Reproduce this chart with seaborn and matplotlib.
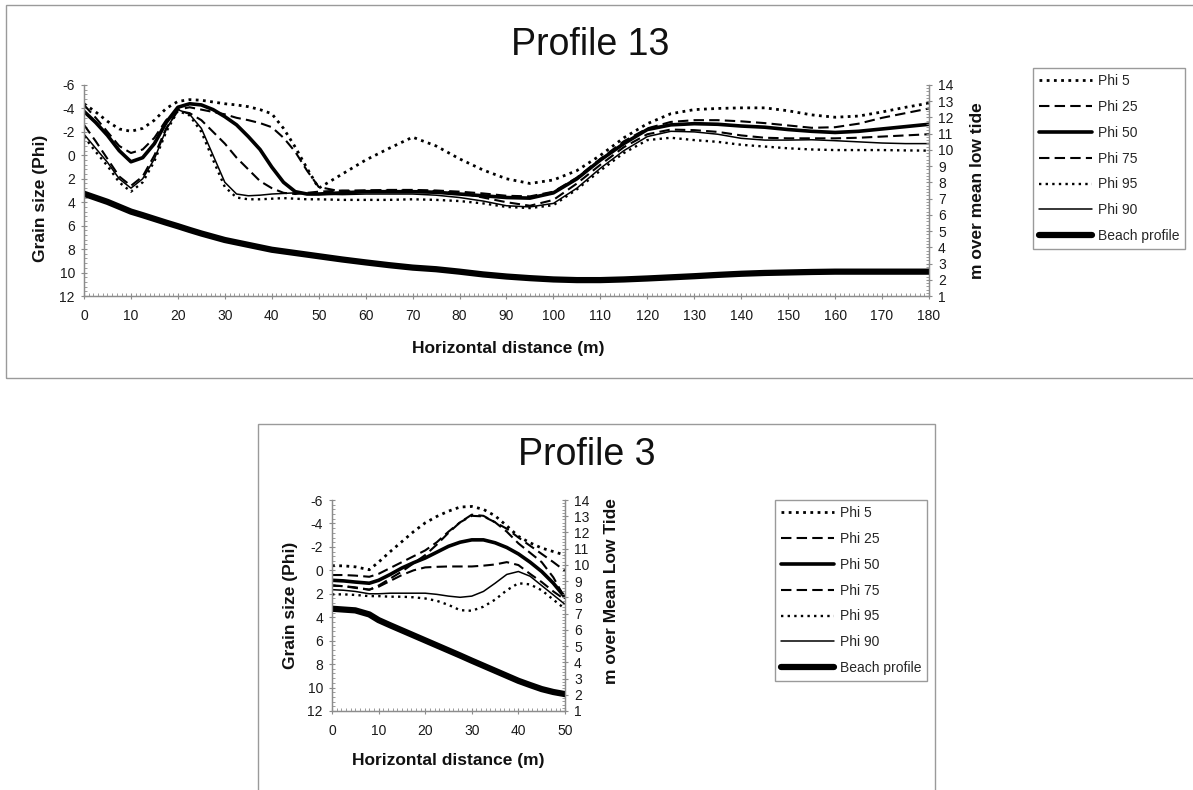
import matplotlib
matplotlib.use("Agg")
import matplotlib.pyplot as plt
import seaborn as sns
from matplotlib.patches import Rectangle
from matplotlib.ticker import MultipleLocator

# ---- Profile 13 (grain size in phi, beach profile in m over mean low tide)
dist_13 = [0, 2.5, 5, 7.5, 10, 12.5, 15, 17.5, 20, 22.5, 25, 27.5, 30, 32.5, 35, 37.5,
           40, 42.5, 45, 47.5, 50, 55, 60, 65, 70, 75, 80, 85, 90, 95, 100, 105, 110,
           115, 120, 125, 130, 135, 140, 145, 150, 155, 160, 165, 170, 175, 180]
phi5_13 = [-4.4, -3.7, -2.9, -2.25, -2.05, -2.3, -3.0, -4.0, -4.6, -4.75, -4.7, -4.55, -4.4,
           -4.3, -4.15, -3.9, -3.55, -2.3, -0.7, 1.1, 2.8, 1.6, 0.4, -0.6, -1.55, -0.8, 0.3,
           1.25, 2.0, 2.4, 2.1, 1.3, 0.0, -1.5, -2.7, -3.55, -3.9, -4.0, -4.05, -4.05, -3.8,
           -3.45, -3.25, -3.35, -3.7, -4.1, -4.45]
phi25_13 = [-4.3, -3.2, -2.0, -0.8, -0.2, -0.5, -1.5, -3.0, -3.9, -4.1, -3.9, -3.7, -3.5,
            -3.2, -3.0, -2.75, -2.4, -1.5, -0.3, 1.3, 2.7, 3.1, 3.0, 2.95, 2.95, 3.0, 3.1,
            3.25, 3.45, 3.5, 3.1, 1.9, 0.3, -1.2, -2.3, -2.85, -3.0, -3.0, -2.9, -2.75, -2.55,
            -2.35, -2.4, -2.7, -3.2, -3.6, -4.0]
phi50_13 = [-3.75, -2.8, -1.7, -0.4, 0.55, 0.2, -1.0, -2.8, -4.1, -4.4, -4.3, -3.9, -3.3,
            -2.6, -1.6, -0.5, 1.0, 2.3, 3.1, 3.3, 3.3, 3.2, 3.1, 3.1, 3.1, 3.15, 3.3, 3.45,
            3.6, 3.65, 3.2, 2.0, 0.4, -1.0, -2.2, -2.6, -2.7, -2.65, -2.5, -2.4, -2.2, -2.05,
            -1.95, -2.05, -2.25, -2.45, -2.65]
phi75_13 = [-2.6, -1.2, 0.3, 1.8, 2.6, 1.8, 0.0, -2.3, -3.8, -3.6, -3.0, -2.0, -1.0, 0.2,
            1.2, 2.2, 2.8, 3.2, 3.3, 3.2, 3.1, 3.0, 3.0, 3.0, 3.0, 3.05, 3.2, 3.6, 4.0, 4.3,
            3.8, 2.4, 0.8, -0.7, -1.8, -2.2, -2.15, -2.0, -1.7, -1.5, -1.45, -1.45, -1.45,
            -1.5, -1.6, -1.7, -1.8]
phi95_13 = [-1.6, -0.3, 0.9, 2.3, 3.1, 2.3, 0.5, -2.0, -3.8, -3.4, -2.0, 0.4, 2.7, 3.6,
            3.75, 3.75, 3.7, 3.65, 3.7, 3.75, 3.75, 3.8, 3.8, 3.8, 3.75, 3.8, 3.9, 4.1, 4.4,
            4.5, 4.25, 2.9, 1.3, -0.2, -1.3, -1.5, -1.3, -1.15, -0.9, -0.75, -0.6, -0.5,
            -0.45, -0.45, -0.45, -0.42, -0.4]
phi90_13 = [-1.8, -0.6, 0.6, 2.0, 2.8, 2.0, 0.3, -2.2, -3.9, -3.5, -2.3, 0.0, 2.3, 3.3,
            3.45, 3.4, 3.3, 3.25, 3.2, 3.25, 3.3, 3.35, 3.3, 3.3, 3.3, 3.4, 3.6, 3.9, 4.3,
            4.4, 4.1, 2.8, 1.1, -0.4, -1.6, -2.05, -2.0, -1.8, -1.45, -1.3, -1.3, -1.33,
            -1.25, -1.15, -1.05, -1.0, -1.0]
beach_13 = [7.3, 7.05, 6.8, 6.5, 6.2, 5.98, 5.75, 5.52, 5.3, 5.07, 4.85, 4.65, 4.45, 4.3,
            4.15, 4.0, 3.85, 3.75, 3.65, 3.55, 3.45, 3.25, 3.07, 2.9, 2.75, 2.65, 2.5, 2.33,
            2.2, 2.1, 2.02, 1.98, 1.98, 2.02, 2.08, 2.15, 2.22, 2.3, 2.37, 2.42, 2.45, 2.48,
            2.5, 2.5, 2.5, 2.5, 2.5]

# ---- Profile 3
dist_3 = [0, 2.5, 5, 8, 10, 12.5, 15, 17.5, 20, 22.5, 25, 27.5, 30, 32.5, 35, 37.5, 40,
          42.5, 45, 47.5, 50]
phi5_3 = [-0.4, -0.38, -0.3, -0.05, -0.7, -1.6, -2.45, -3.3, -4.05, -4.6, -5.05, -5.4,
          -5.45, -5.2, -4.65, -3.8, -2.9, -2.35, -1.9, -1.6, -1.3]
phi25_3 = [0.4, 0.4, 0.45, 0.55, 0.3, -0.2, -0.7, -1.2, -1.7, -2.4, -3.3, -4.1, -4.65,
           -4.6, -4.1, -3.55, -2.8, -2.1, -1.4, -0.7, 0.05]
phi25b_3 = [1.3, 1.35, 1.5, 1.65, 1.3, 0.7, 0.1, -0.6, -1.3, -2.2, -3.2, -4.1, -4.75,
            -4.65, -4.1, -3.3, -2.3, -1.5, -0.7, 0.6, 2.4]
phi50_3 = [0.85, 0.9, 1.0, 1.1, 0.85, 0.35, -0.2, -0.65, -1.05, -1.55, -2.05, -2.4, -2.6,
           -2.6, -2.35, -1.95, -1.4, -0.7, 0.1, 1.1, 2.3]
phi75_3 = [1.3, 1.35, 1.45, 1.65, 1.4, 0.9, 0.4, 0.0, -0.25, -0.3, -0.33, -0.33, -0.33,
           -0.4, -0.5, -0.7, -0.45, 0.3, 1.0, 1.8, 2.5]
phi95_3 = [2.05, 2.05, 2.1, 2.2, 2.2, 2.25, 2.25, 2.3, 2.4, 2.6, 2.95, 3.4, 3.45, 3.1,
           2.5, 1.7, 1.1, 1.2, 1.7, 2.5, 3.3]
phi90_3 = [1.65, 1.7, 1.8, 2.0, 2.0, 1.95, 1.95, 1.95, 1.95, 2.05, 2.2, 2.3, 2.2, 1.8,
           1.1, 0.35, 0.1, 0.5, 1.3, 2.1, 2.9]
beach_3 = [7.3, 7.25, 7.2, 6.95, 6.6, 6.28, 5.97, 5.66, 5.35, 5.04, 4.73, 4.42, 4.1,
           3.79, 3.48, 3.17, 2.86, 2.6, 2.35, 2.17, 2.04]

legend_order = ['Phi 5', 'Phi 25', 'Phi 50', 'Phi 75', 'Phi 95', 'Phi 90', 'Beach profile']

sns.set_theme(style="white")
plt.rcParams['font.family'] = ['Liberation Sans', 'DejaVu Sans']
plt.rcParams['axes.unicode_minus'] = False

GRAY = '#8c8c8c'
W, H = 1193, 790

line_styles = {
    'Phi 5': dict(linestyle=(0, (1, 1.6)), linewidth=2.0),
    'Phi 25': dict(linestyle=(0, (5, 2.5)), linewidth=1.5),
    'Phi 50': dict(linestyle='-', linewidth=2.6),
    'Phi 75': dict(linestyle=(0, (5, 2.5)), linewidth=1.5),
    'Phi 95': dict(linestyle=(0, (1, 1.8)), linewidth=1.7),
    'Phi 90': dict(linestyle='-', linewidth=1.1),
    'Beach profile': dict(linestyle='-', linewidth=4.5),
}

fig = plt.figure(figsize=(11.93, 7.9), dpi=100)


def px_rect(x0, y0, x1, y1):
    # pixel box (top-left origin) -> figure fraction [left, bottom, width, height]
    return [x0 / W, 1 - y1 / H, (x1 - x0) / W, (y1 - y0) / H]


def draw_profile(box, axes_px, title, title_xy, dist, grain, beach, xmax,
                 right_label, label_xy, legend_xy):
    fig.patches.append(Rectangle((box[0] / W, 1 - box[3] / H), (box[2] - box[0]) / W,
                                 (box[3] - box[1]) / H, transform=fig.transFigure,
                                 fill=False, edgecolor='#9a9a9a', linewidth=1.0))
    fig.text(title_xy[0] / W, 1 - title_xy[1] / H, title, ha='center', va='center',
             fontsize=27, family=['Liberation Sans Narrow', 'Liberation Sans'], color='#111')

    ax = fig.add_axes(px_rect(*axes_px))
    ax2 = ax.twinx()
    handles = {}
    for label, values, style in grain:
        sns.lineplot(x=dist, y=values, ax=ax, color='black', errorbar=None, legend=False,
                     **line_styles[style])
        if label:
            handles[label] = ax.lines[-1]
    sns.lineplot(x=dist, y=beach, ax=ax2, color='black', errorbar=None, legend=False,
                 **line_styles['Beach profile'])
    handles['Beach profile'] = ax2.lines[-1]

    ax.set_xlim(0, xmax)
    ax.set_ylim(12, -6)
    ax2.set_ylim(1, 14)
    ax.xaxis.set_major_locator(MultipleLocator(10))
    ax.xaxis.set_minor_locator(MultipleLocator(1))
    ax.yaxis.set_major_locator(MultipleLocator(2))
    ax.yaxis.set_minor_locator(MultipleLocator(0.4))
    ax2.yaxis.set_major_locator(MultipleLocator(1))
    ax2.yaxis.set_minor_locator(MultipleLocator(0.2))

    for a in (ax, ax2):
        for s in a.spines.values():
            s.set_color(GRAY)
            s.set_linewidth(0.9)
        a.spines['top'].set_visible(False)
        a.set_facecolor('none')
    ax.tick_params(which='both', bottom=True, left=True, right=False, top=False,
                   color=GRAY)
    ax2.tick_params(which='both', right=True, left=False, bottom=False, top=False,
                    color=GRAY)
    for a in (ax, ax2):
        a.tick_params(which='major', direction='inout', length=5, width=0.8,
                      labelsize=10, labelcolor='#1a1a1a')
        a.tick_params(which='minor', direction='in', length=2.5, width=0.6)
    ax.tick_params(axis='x', pad=7)
    ax.tick_params(axis='y', pad=4)
    ax2.tick_params(axis='y', pad=4)

    ax.set_xlabel('Horizontal distance (m)', fontsize=12.5, fontweight='bold', color='#111')
    ax.set_ylabel('Grain size (Phi)', fontsize=12.5, fontweight='bold', color='#111')
    ax2.set_ylabel(right_label, fontsize=12.5, fontweight='bold', color='#111')
    ax.xaxis.set_label_coords(*label_xy[0])
    ax.yaxis.set_label_coords(*label_xy[1])
    ax2.yaxis.set_label_coords(*label_xy[2])

    fig.legend([handles[k] for k in legend_order], legend_order, loc='upper left',
               bbox_to_anchor=(legend_xy[0] / W, 1 - legend_xy[1] / H), borderaxespad=0,
               frameon=True, fancybox=False, edgecolor='#9a9a9a', framealpha=1,
               fontsize=10, handlelength=3.8, handletextpad=0.4, labelspacing=0.85,
               borderpad=0.45)


draw_profile(box=(6, 5, 1210, 378), axes_px=(84, 85, 929, 296), title='Profile 13',
             title_xy=(590, 45), dist=dist_13,
             grain=[('Phi 5', phi5_13, 'Phi 5'), ('Phi 25', phi25_13, 'Phi 25'),
                    ('Phi 50', phi50_13, 'Phi 50'), ('Phi 75', phi75_13, 'Phi 75'),
                    ('Phi 95', phi95_13, 'Phi 95'), ('Phi 90', phi90_13, 'Phi 90')],
             beach=beach_13, xmax=180, right_label='m over mean low tide',
             label_xy=[(0.502, -0.215), (-0.043, 0.465), (1.049, 0.5)],
             legend_xy=(1033, 68))

draw_profile(box=(258, 424, 935, 800), axes_px=(332, 500, 565, 711), title='Profile 3',
             title_xy=(587, 455), dist=dist_3,
             grain=[('Phi 5', phi5_3, 'Phi 5'), ('Phi 25', phi25_3, 'Phi 25'),
                    (None, phi25b_3, 'Phi 25'),
                    ('Phi 50', phi50_3, 'Phi 50'), ('Phi 75', phi75_3, 'Phi 75'),
                    ('Phi 95', phi95_3, 'Phi 95'), ('Phi 90', phi90_3, 'Phi 90')],
             beach=beach_3, xmax=50, right_label='m over Mean Low Tide',
             label_xy=[(0.498, -0.2), (-0.146, 0.5), (1.167, 0.57)],
             legend_xy=(775, 500))

fig.savefig('out.png', dpi=100)
